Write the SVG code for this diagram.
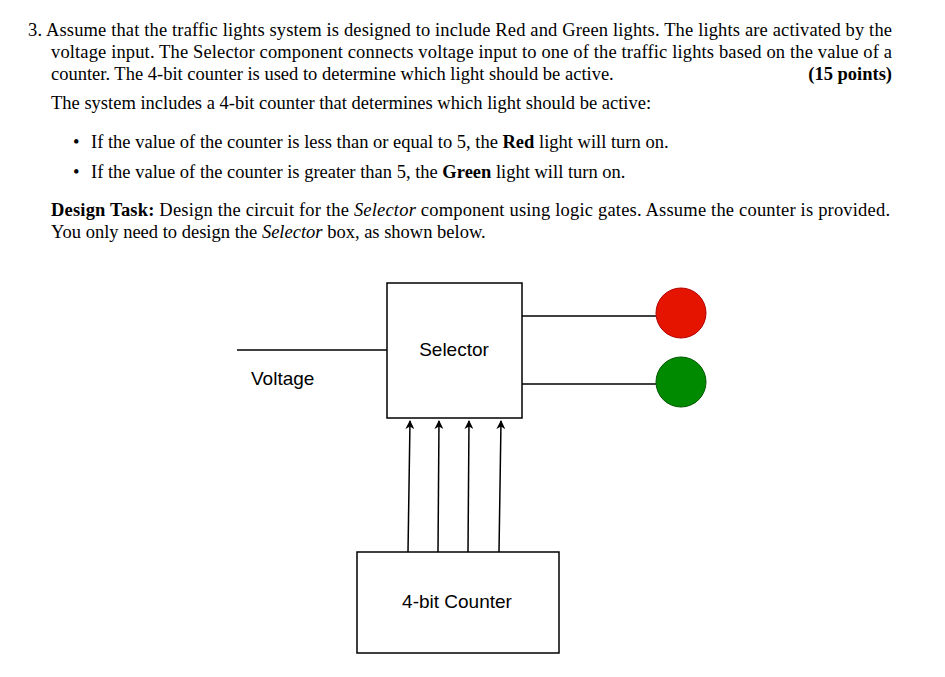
<svg xmlns="http://www.w3.org/2000/svg" width="945" height="677" viewBox="0 0 945 677">
<style>
.t{font-family:"Liberation Serif","Times New Roman",serif;font-size:18.5px;fill:#000}
.d{font-family:"Liberation Sans",Arial,sans-serif;font-size:19px;fill:#000}
.box{fill:#fff;stroke:#000;stroke-width:1.5}
.w{stroke:#000;stroke-width:1.5;fill:none}
</style>
<defs><marker id="ar" viewBox="0 0 10 10" refX="9" refY="5" markerWidth="9" markerHeight="9" markerUnits="userSpaceOnUse" orient="auto"><path d="M0,0 L10,5 L0,10 L3,5 z" fill="#000"/></marker></defs>
<rect width="945" height="677" fill="#fff"/>
<g id="text">
<text class="t" x="28" y="36" textLength="864" lengthAdjust="spacing">3. Assume that the traffic lights system is designed to include Red and Green lights. The lights are activated by the</text>
<text class="t" x="51" y="58" textLength="841" lengthAdjust="spacing">voltage input. The Selector component connects voltage input to one of the traffic lights based on the value of a</text>
<text class="t" x="51" y="80">counter. The 4-bit counter is used to determine which light should be active.</text>
<text class="t" x="892" y="80" text-anchor="end" font-weight="bold">(15 points)</text>
<text class="t" x="51" y="109">The system includes a 4-bit counter that determines which light should be active:</text>
<text class="t" x="73" y="148">•</text>
<text class="t" x="91" y="148">If the value of the counter is less than or equal to 5, the <tspan font-weight="bold">Red</tspan> light will turn on.</text>
<text class="t" x="73" y="178">•</text>
<text class="t" x="91" y="178">If the value of the counter is greater than 5, the <tspan font-weight="bold">Green</tspan> light will turn on.</text>
<text class="t" x="51" y="216" textLength="839" lengthAdjust="spacing"><tspan font-weight="bold">Design Task:</tspan> Design the circuit for the <tspan font-style="italic">Selector</tspan> component using logic gates. Assume the counter is provided.</text>
<text class="t" x="51" y="238">You only need to design the <tspan font-style="italic">Selector</tspan> box, as shown below.</text>
</g>
<g id="connectors">
<line class="w" x1="237" y1="350" x2="387" y2="350"/>
<line class="w" x1="522" y1="316" x2="656" y2="316"/>
<line class="w" x1="522" y1="384" x2="656" y2="384"/>
<line class="w" x1="408" y1="552" x2="410" y2="421" marker-end="url(#ar)"/>
<line class="w" x1="438" y1="552" x2="439" y2="421" marker-end="url(#ar)"/>
<line class="w" x1="468" y1="552" x2="469" y2="421" marker-end="url(#ar)"/>
<line class="w" x1="499" y1="552" x2="501" y2="421" marker-end="url(#ar)"/>
</g>
<g id="selector"><rect class="box" x="387" y="283" width="135" height="135"/><text class="d" x="454" y="356" text-anchor="middle">Selector</text></g>
<g id="counter"><rect class="box" x="357" y="552" width="202" height="101"/><text class="d" x="457" y="608" text-anchor="middle">4-bit Counter</text></g>
<g id="voltage"><text class="d" x="251" y="385">Voltage</text></g>
<g id="red"><circle cx="681" cy="313" r="25" fill="#e51400" stroke="#b20000"/></g>
<g id="green"><circle cx="681" cy="382" r="25" fill="#008a00" stroke="#005700"/></g>
</svg>
